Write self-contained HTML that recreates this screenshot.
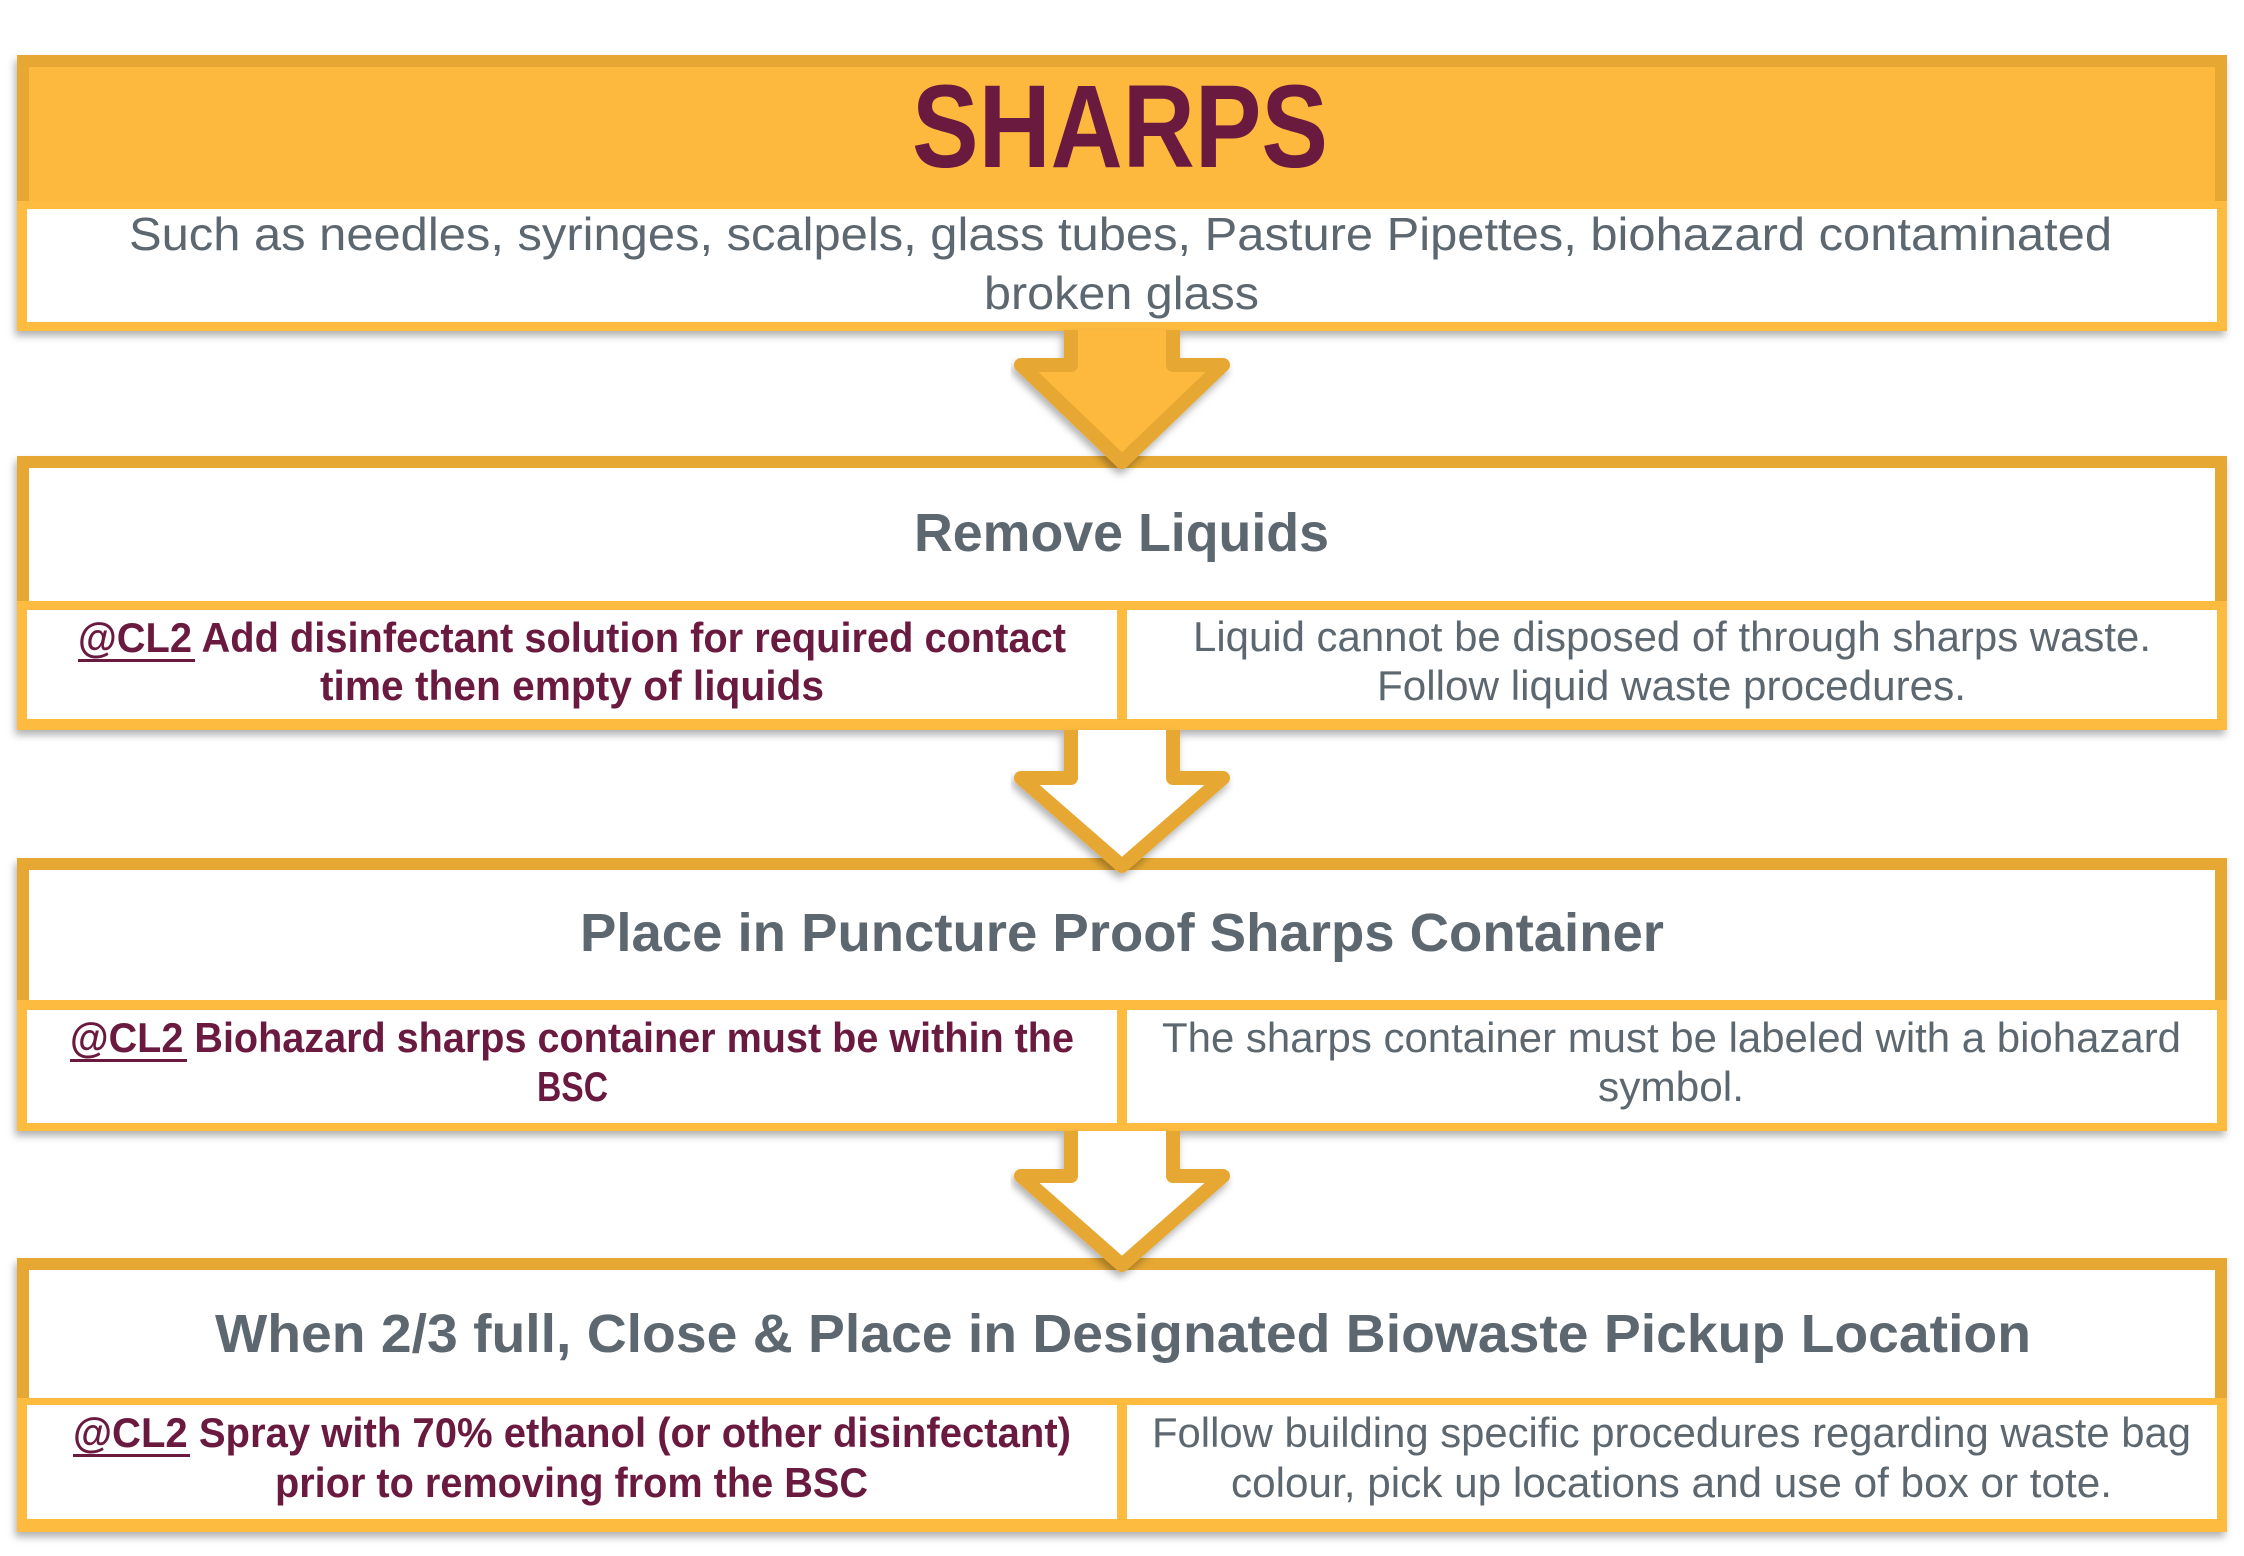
<!DOCTYPE html>
<html><head><meta charset="utf-8"><style>
html,body{margin:0;padding:0;background:#fff;}
svg{display:block;}
text{font-family:"Liberation Sans",sans-serif;}
</style></head><body>
<svg width="2244" height="1556" viewBox="0 0 2244 1556" xmlns="http://www.w3.org/2000/svg">
<defs>
<filter id="sh" x="-5%" y="-5%" width="110%" height="120%">
<feDropShadow dx="-2" dy="5" stdDeviation="4" flood-color="#000" flood-opacity="0.3"/>
</filter>
</defs>
<!-- Box 1 -->
<g filter="url(#sh)">
<rect x="17" y="55" width="2210" height="276" fill="#e6a833"/>
</g>
<rect x="29" y="67" width="2186" height="134" fill="#fdb93e"/>
<rect x="17" y="201" width="2210" height="130" fill="#fdbb40"/>
<rect x="27" y="209" width="2190" height="113" fill="#fff"/>

<!-- Boxes 2-4 -->
<g filter="url(#sh)">
<rect x="17" y="456" width="2210" height="274" fill="#e6a833"/>
<rect x="17" y="858" width="2210" height="273" fill="#e6a833"/>
<rect x="17" y="1258" width="2210" height="274" fill="#e6a833"/>
</g>
<rect x="29" y="468" width="2186" height="133" fill="#fff"/>
<rect x="17" y="601" width="2210" height="129" fill="#fdbb40"/>
<rect x="27" y="610" width="1090" height="109" fill="#fff"/>
<rect x="1127" y="610" width="1090" height="109" fill="#fff"/>

<rect x="29" y="870" width="2186" height="130" fill="#fff"/>
<rect x="17" y="1000" width="2210" height="131" fill="#fdbb40"/>
<rect x="27" y="1010" width="1090" height="113" fill="#fff"/>
<rect x="1127" y="1010" width="1090" height="113" fill="#fff"/>

<rect x="29" y="1270" width="2186" height="128" fill="#fff"/>
<rect x="17" y="1398" width="2210" height="134" fill="#fdbb40"/>
<rect x="27" y="1405" width="1090" height="114" fill="#fff"/>
<rect x="1127" y="1405" width="1090" height="114" fill="#fff"/>

<!-- Arrows -->
<g filter="url(#sh)" stroke="#e6a833" stroke-width="14" stroke-linejoin="round">
<polygon points="1071,330 1173,330 1173,365 1223,365 1122,462 1021,365 1071,365" fill="#fdb93e" stroke="none"/>
<polyline points="1071,330 1071,365 1021,365 1122,462 1223,365 1173,365 1173,330" fill="none"/>
<polygon points="1071,730 1173,730 1173,778 1223,778 1122,866 1021,778 1071,778" fill="#fff" stroke="none"/>
<polyline points="1071,730 1071,778 1021,778 1122,866 1223,778 1173,778 1173,730" fill="none"/>
<polygon points="1071,1131 1173,1131 1173,1176 1223,1176 1122,1265 1021,1176 1071,1176" fill="#fff" stroke="none"/>
<polyline points="1071,1131 1071,1176 1021,1176 1122,1265 1223,1176 1173,1176 1173,1131" fill="none"/>
</g>

<!-- Texts -->
<text x="912" y="167" font-size="118" font-weight="bold" fill="#6b1a3f" textLength="416" lengthAdjust="spacingAndGlyphs">SHARPS</text>
<text x="129" y="250" font-size="46" fill="#5d6770" textLength="1983" lengthAdjust="spacingAndGlyphs">Such as needles, syringes, scalpels, glass tubes, Pasture Pipettes, biohazard contaminated</text>
<text x="984" y="309" font-size="46" fill="#5d6770" textLength="275" lengthAdjust="spacingAndGlyphs">broken glass</text>

<text x="914" y="551" font-size="54" font-weight="bold" fill="#5d6770" textLength="415" lengthAdjust="spacingAndGlyphs">Remove Liquids</text>
<text x="78" y="652" font-size="42" font-weight="bold" fill="#6b1a3f" textLength="988" lengthAdjust="spacingAndGlyphs">@CL2 Add disinfectant solution for required contact</text>
<text x="320" y="700" font-size="42" font-weight="bold" fill="#6b1a3f" textLength="504" lengthAdjust="spacingAndGlyphs">time then empty of liquids</text>
<rect x="78" y="659" width="117" height="3" fill="#6b1a3f"/>
<text x="1193" y="651" font-size="42" fill="#5d6770" textLength="958" lengthAdjust="spacingAndGlyphs">Liquid cannot be disposed of through sharps waste.</text>
<text x="1377" y="700" font-size="42" fill="#5d6770" textLength="589" lengthAdjust="spacingAndGlyphs">Follow liquid waste procedures.</text>

<text x="580" y="951" font-size="54" font-weight="bold" fill="#5d6770" textLength="1084" lengthAdjust="spacingAndGlyphs">Place in Puncture Proof Sharps Container</text>
<text x="70" y="1052" font-size="42" font-weight="bold" fill="#6b1a3f" textLength="1004" lengthAdjust="spacingAndGlyphs">@CL2 Biohazard sharps container must be within the</text>
<text x="537" y="1101" font-size="42" font-weight="bold" fill="#6b1a3f" textLength="71" lengthAdjust="spacingAndGlyphs">BSC</text>
<rect x="70" y="1059" width="117" height="3" fill="#6b1a3f"/>
<text x="1162" y="1052" font-size="42" fill="#5d6770" textLength="1019" lengthAdjust="spacingAndGlyphs">The sharps container must be labeled with a biohazard</text>
<text x="1598" y="1101" font-size="42" fill="#5d6770" textLength="146" lengthAdjust="spacingAndGlyphs">symbol.</text>

<text x="215" y="1352" font-size="54" font-weight="bold" fill="#5d6770" textLength="1816" lengthAdjust="spacingAndGlyphs">When 2/3 full, Close &amp; Place in Designated Biowaste Pickup Location</text>
<text x="73" y="1447" font-size="42" font-weight="bold" fill="#6b1a3f" textLength="998" lengthAdjust="spacingAndGlyphs">@CL2 Spray with 70% ethanol (or other disinfectant)</text>
<text x="275" y="1497" font-size="42" font-weight="bold" fill="#6b1a3f" textLength="593" lengthAdjust="spacingAndGlyphs">prior to removing from the BSC</text>
<rect x="73" y="1454" width="117" height="3" fill="#6b1a3f"/>
<text x="1152" y="1447" font-size="42" fill="#5d6770" textLength="1039" lengthAdjust="spacingAndGlyphs">Follow building specific procedures regarding waste bag</text>
<text x="1231" y="1497" font-size="42" fill="#5d6770" textLength="881" lengthAdjust="spacingAndGlyphs">colour, pick up locations and use of box or tote.</text>
</svg>
</body></html>
